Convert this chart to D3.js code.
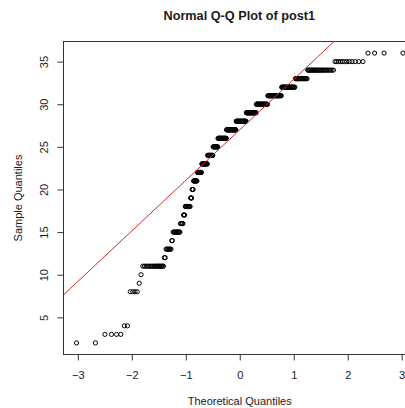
<!DOCTYPE html>
<html>
<head>
<meta charset="utf-8">
<script src="https://cdn.jsdelivr.net/npm/d3@7"></script>
<style>
  body { margin: 0; background: #fff; }
  text { font-family: "Liberation Sans", Arial, sans-serif; fill: #1a1a1a; }
</style>
</head>
<body>
<svg id="chart" width="405" height="408"></svg>
<script>
// Observed scores of post1: each distinct score and how often it occurs
const scoreValues = [2, 3, 4, 8, 9, 10, 11, 12, 13, 14, 15, 16, 17, 18, 19, 20, 21, 22, 23, 24, 25, 26, 27, 28, 29, 30, 31, 32, 33, 34, 35, 36];
const scoreCounts = [2, 4, 2, 4, 1, 1, 18, 2, 7, 2, 11, 5, 3, 10, 3, 3, 8, 10, 14, 14, 13, 24, 28, 30, 29, 31, 33, 27, 19, 26, 12, 4];

const xTickValues = [-3, -2, -1, 0, 1, 2, 3];
const yTickValues = [5, 10, 15, 20, 25, 30, 35];

const titleText = "Normal Q-Q Plot of post1";
const xLabel = "Theoretical Quantiles";
const yLabel = "Sample Quantiles";

// Inverse of the standard normal CDF (Acklam's rational approximation)
function qnorm(p) {
  const a = [-3.969683028665376e+01, 2.209460984245205e+02, -2.759285104469687e+02, 1.383577518672690e+02, -3.066479806614716e+01, 2.506628277459239e+00];
  const b = [-5.447609879822406e+01, 1.615858368580409e+02, -1.556989798598866e+02, 6.680131188771972e+01, -1.328068155288572e+01];
  const c = [-7.784894002430293e-03, -3.223964580411365e-01, -2.400758277161838e+00, -2.549732539343734e+00, 4.374664141464968e+00, 2.938163982698783e+00];
  const d = [7.784695709041462e-03, 3.224671290700398e-01, 2.445134137142996e+00, 3.754408661907416e+00];
  const pl = 0.02425, ph = 1 - pl;
  if (p < pl) {
    const q = Math.sqrt(-2 * Math.log(p));
    return (((((c[0]*q + c[1])*q + c[2])*q + c[3])*q + c[4])*q + c[5]) / ((((d[0]*q + d[1])*q + d[2])*q + d[3])*q + 1);
  }
  if (p > ph) {
    const q = Math.sqrt(-2 * Math.log(1 - p));
    return -(((((c[0]*q + c[1])*q + c[2])*q + c[3])*q + c[4])*q + c[5]) / ((((d[0]*q + d[1])*q + d[2])*q + d[3])*q + 1);
  }
  const q = p - 0.5, r = q * q;
  return (((((a[0]*r + a[1])*r + a[2])*r + a[3])*r + a[4])*r + a[5]) * q / (((((b[0]*r + b[1])*r + b[2])*r + b[3])*r + b[4])*r + 1);
}

// Sorted sample and its theoretical normal quantiles (ppoints, n > 10)
const sample = scoreValues.flatMap((v, i) => Array(scoreCounts[i]).fill(v));
const n = sample.length;
const points = sample.map((v, i) => ({ x: qnorm((i + 1 - 0.5) / n), y: v }));

// Reference line through the first and third quartiles
const q1 = d3.quantileSorted(sample, 0.25), q3 = d3.quantileSorted(sample, 0.75);
const z1 = qnorm(0.25), z3 = qnorm(0.75);
const slope = (q3 - q1) / (z3 - z1);
const intercept = q1 - slope * z1;

// Plot region and scales (ranges padded by 4%)
const plot = { left: 63.5, right: 416, top: 41.5, bottom: 354.5 };
const pad = ext => { const r = ext[1] - ext[0]; return [ext[0] - 0.04 * r, ext[1] + 0.04 * r]; };
const x = d3.scaleLinear().domain(pad(d3.extent(points, d => d.x))).range([plot.left, plot.right]);
const y = d3.scaleLinear().domain(pad(d3.extent(points, d => d.y))).range([plot.bottom, plot.top]);

const svg = d3.select("#chart");

svg.append("defs").append("clipPath").attr("id", "plot-clip")
  .append("rect")
  .attr("x", plot.left).attr("y", plot.top)
  .attr("width", plot.right - plot.left).attr("height", plot.bottom - plot.top);

// Axes
const xAxis = svg.append("g")
  .attr("transform", `translate(0,${plot.bottom})`)
  .call(d3.axisBottom(x).tickValues(xTickValues).tickSize(6).tickPadding(11).tickFormat(d3.format("d")));
xAxis.select(".domain").remove();
xAxis.selectAll("line").attr("stroke", "#333");
xAxis.selectAll("text").attr("font-size", 11).attr("font-family", null).attr("fill", "#1a1a1a");

const yAxis = svg.append("g")
  .attr("transform", `translate(${plot.left},0)`)
  .call(d3.axisLeft(y).tickValues(yTickValues).tickSize(6).tickFormat(d3.format("d")));
yAxis.select(".domain").remove();
yAxis.selectAll("line").attr("stroke", "#333");
yAxis.selectAll("text")
  .attr("font-size", 11).attr("font-family", null).attr("fill", "#1a1a1a")
  .attr("transform", "rotate(-90)")
  .attr("x", 0).attr("y", -15.5).attr("dy", null)
  .attr("text-anchor", "middle");

// Plot frame
svg.append("rect")
  .attr("x", plot.left).attr("y", plot.top)
  .attr("width", plot.right - plot.left).attr("height", plot.bottom - plot.top)
  .attr("fill", "none").attr("stroke", "#333").attr("stroke-width", 1);

// Sample points
svg.append("g")
  .selectAll("circle")
  .data(points)
  .join("circle")
  .attr("cx", d => x(d.x))
  .attr("cy", d => y(d.y))
  .attr("r", 2.1)
  .attr("fill", "none")
  .attr("stroke", "#000")
  .attr("stroke-width", 1);

// Quartile reference line
const xd = x.domain();
svg.append("line")
  .attr("clip-path", "url(#plot-clip)")
  .attr("x1", x(xd[0])).attr("y1", y(intercept + slope * xd[0]))
  .attr("x2", x(xd[1])).attr("y2", y(intercept + slope * xd[1]))
  .attr("stroke", "#cc2a2a").attr("stroke-width", 1);

// Titles
svg.append("text")
  .attr("x", (plot.left + plot.right) / 2 - 0.5).attr("y", 19.5)
  .attr("text-anchor", "middle").attr("font-size", 12.7).attr("font-weight", "bold")
  .text(titleText);

svg.append("text")
  .attr("x", (plot.left + plot.right) / 2).attr("y", 404.5)
  .attr("text-anchor", "middle").attr("font-size", 11)
  .text(xLabel);

svg.append("text")
  .attr("transform", `translate(21.5,${(plot.top + plot.bottom) / 2}) rotate(-90)`)
  .attr("text-anchor", "middle").attr("font-size", 11)
  .text(yLabel);
</script>
</body>
</html>
